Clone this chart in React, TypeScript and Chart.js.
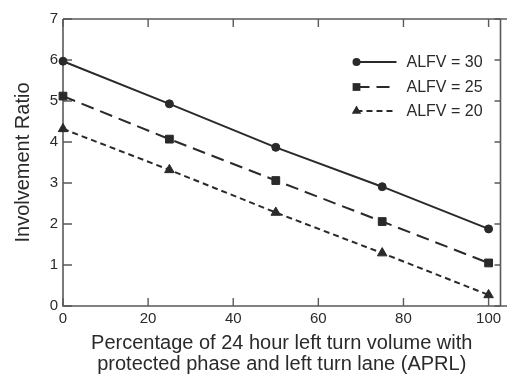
import React, { useEffect, useRef } from 'react';
import { Chart, registerables } from 'chart.js';

Chart.register(...registerables);

const xValues = [0, 25, 50, 75, 100];
const alfv30 = [5.97, 4.93, 3.87, 2.91, 1.88];
const alfv25 = [5.12, 4.07, 3.06, 2.06, 1.05];
const alfv20 = [4.32, 3.32, 2.28, 1.29, 0.27];
const seriesLabels = ['ALFV = 30', 'ALFV = 25', 'ALFV = 20'];
const xTickValues = [0, 20, 40, 60, 80, 100];
const yTickValues = [0, 1, 2, 3, 4, 5, 6, 7];
const xTitle = ['Percentage of 24 hour left turn volume with', 'protected phase and left turn lane (APRL)'];
const yTitle = 'Involvement Ratio';

const FONT = '"Liberation Sans", Arial, Helvetica, sans-serif';
const INK = '#2a2a2a';
const FRAME = '#5a5a5a';

const frameTicksPlugin = {
  id: 'frameTicks',
  beforeDatasetsDraw(chart: any) {
    const { ctx, chartArea: a, scales } = chart;
    const xs = scales.x;
    const ys = scales.y;
    ctx.save();
    ctx.strokeStyle = FRAME;
    ctx.lineWidth = 1.6;
    ctx.beginPath();
    ctx.moveTo(a.left, a.top);
    ctx.lineTo(a.left, a.bottom);
    ctx.lineTo(chart.width, a.bottom);
    ctx.moveTo(a.left, a.top);
    ctx.lineTo(chart.width, a.top);
    ctx.moveTo(a.right, a.top);
    ctx.lineTo(a.right, a.bottom);
    ctx.stroke();
    ctx.lineWidth = 1.4;
    ctx.beginPath();
    xTickValues.forEach((v) => {
      const px = xs.getPixelForValue(v);
      ctx.moveTo(px, a.bottom);
      ctx.lineTo(px, a.bottom - 8);
      ctx.moveTo(px, a.top);
      ctx.lineTo(px, a.top + 8);
    });
    yTickValues.forEach((v) => {
      const py = ys.getPixelForValue(v);
      ctx.moveTo(a.left, py);
      ctx.lineTo(a.left + 9, py);
      ctx.moveTo(a.right, py);
      ctx.lineTo(a.right - 6, py);
    });
    ctx.stroke();
    ctx.restore();
  },
};

function drawMarker(ctx: CanvasRenderingContext2D, style: string, x: number, y: number, r: number) {
  ctx.beginPath();
  if (style === 'circle') {
    ctx.arc(x, y, r, 0, Math.PI * 2);
  } else if (style === 'rect') {
    const s = r * Math.SQRT1_2;
    ctx.rect(x - s, y - s, 2 * s, 2 * s);
  } else if (style === 'triangle') {
    ctx.moveTo(x, y - r);
    ctx.lineTo(x + r * Math.sin(Math.PI / 3), y + r * 0.5);
    ctx.lineTo(x - r * Math.sin(Math.PI / 3), y + r * 0.5);
    ctx.closePath();
  }
  ctx.fill();
}

const legendPlugin = {
  id: 'customLegend',
  afterDraw(chart: any) {
    const { ctx, chartArea: a } = chart;
    const x1 = a.right - 144;
    const x2 = a.right - 104;
    const tx = a.right - 94;
    const rowYs = [a.top + 43, a.top + 68, a.top + 92];
    ctx.save();
    chart.data.datasets.forEach((ds: any, i: number) => {
      const y = rowYs[i];
      ctx.strokeStyle = ds.borderColor;
      ctx.fillStyle = ds.borderColor;
      ctx.lineWidth = ds.borderWidth;
      ctx.setLineDash(ds.borderDash || []);
      ctx.beginPath();
      ctx.moveTo(x1, y);
      ctx.lineTo(x2, y);
      ctx.stroke();
      ctx.setLineDash([]);
      drawMarker(ctx, ds.pointStyle, x1, y, ds.pointRadius);
      ctx.fillStyle = INK;
      ctx.font = `16px ${FONT}`;
      ctx.textAlign = 'left';
      ctx.textBaseline = 'middle';
      ctx.fillText(ds.label, tx, y + 1);
    });
    ctx.restore();
  },
};

export default function App() {
  const ref = useRef<HTMLCanvasElement | null>(null);

  useEffect(() => {
    if (!ref.current) return;
    const mk = (i: number, values: number[], dash: number[], pointStyle: string, radius: number) => ({
      label: seriesLabels[i],
      data: xValues.map((x, k) => ({ x, y: values[k] })),
      borderColor: INK,
      backgroundColor: INK,
      borderWidth: 2,
      borderDash: dash,
      pointStyle,
      pointRadius: radius,
      pointBackgroundColor: INK,
      pointBorderColor: INK,
      pointBorderWidth: 1,
      tension: 0,
      clip: false as any,
    });
    const chart = new Chart(ref.current, {
      type: 'line',
      data: {
        datasets: [
          mk(0, alfv30, [], 'circle', 4),
          mk(1, alfv25, [13, 7], 'rect', 5.5),
          mk(2, alfv20, [6, 4], 'triangle', 5.5),
        ],
      },
      options: {
        animation: false,
        responsive: false,
        devicePixelRatio: 1,
        layout: { padding: { top: 19, right: 5, left: 0, bottom: 0 } },
        plugins: { legend: { display: false }, tooltip: { enabled: false } },
        scales: {
          x: {
            type: 'linear',
            min: 0,
            max: 102.8,
            grid: { display: false, drawTicks: false },
            border: { display: false },
            afterBuildTicks: (s: any) => {
              s.ticks = xTickValues.map((v) => ({ value: v }));
            },
            afterFit: (s: any) => {
              s.height = 71;
            },
            ticks: {
              color: INK,
              font: { family: FONT, size: 15 },
              padding: 4,
              maxRotation: 0,
              autoSkip: false,
            },
            title: {
              display: true,
              text: xTitle,
              color: INK,
              font: { family: FONT, size: 20, lineHeight: '21px' },
              padding: { top: 0, bottom: 2 },
            },
          },
          y: {
            type: 'linear',
            min: 0,
            max: 7,
            grid: { display: false, drawTicks: false },
            border: { display: false },
            afterBuildTicks: (s: any) => {
              s.ticks = yTickValues.map((v) => ({ value: v }));
            },
            afterFit: (s: any) => {
              s.width = 63;
            },
            ticks: {
              color: INK,
              font: { family: FONT, size: 15 },
              padding: 5,
            },
            title: {
              display: true,
              text: yTitle,
              color: INK,
              font: { family: FONT, size: 20, lineHeight: '24px' },
              padding: { top: 11, bottom: 0 },
            },
          },
        },
      },
      plugins: [frameTicksPlugin, legendPlugin],
    } as any);
    return () => chart.destroy();
  }, []);

  return (
    <div style={{ position: 'absolute', left: 0, top: 0, width: 507, height: 377, background: '#fff' }}>
      <canvas ref={ref} width={507} height={377} style={{ width: 507, height: 377, display: 'block' }} />
    </div>
  );
}
